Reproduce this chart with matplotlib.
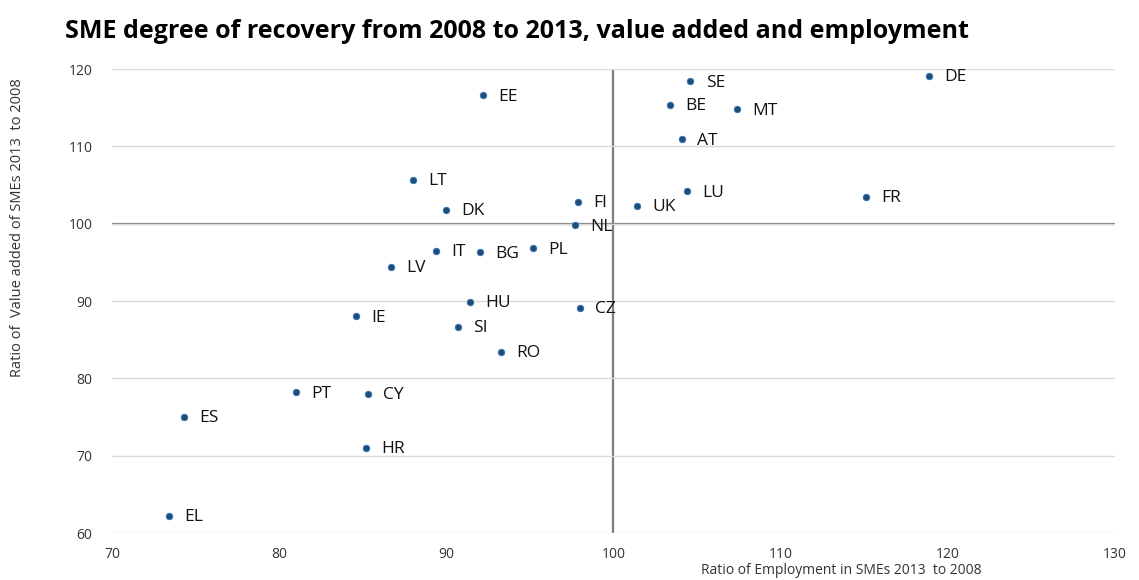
import matplotlib
matplotlib.use('Agg')
import matplotlib.pyplot as plt

# employment ratio (x) and value added ratio (y), 2013 vs 2008
countries = ['EE', 'LT', 'DK', 'FI', 'NL', 'IT', 'BG', 'PL', 'LV',
             'SE', 'DE', 'BE', 'MT', 'AT', 'LU', 'FR', 'UK',
             'HU', 'CZ', 'IE', 'SI', 'RO', 'PT', 'CY', 'ES', 'HR', 'EL']
employment = [92.2, 88.0, 90.0, 97.9, 97.7, 89.4, 92.0, 95.2, 86.7,
              104.6, 118.9, 103.4, 107.4, 104.1, 104.4, 115.1, 101.4,
              91.4, 98.0, 84.6, 90.7, 93.3, 81.0, 85.3, 74.3, 85.2, 73.4]
value_added = [116.6, 105.7, 101.8, 102.8, 99.8, 96.5, 96.3, 96.8, 94.4,
               118.4, 119.1, 115.4, 114.8, 110.9, 104.2, 103.5, 102.3,
               89.9, 89.1, 88.0, 86.7, 83.4, 78.2, 78.0, 75.0, 71.0, 62.2]
x_ticks = [70, 80, 90, 100, 110, 120, 130]
y_ticks = [60, 70, 80, 90, 100, 110, 120]

label_font = ['Open Sans', 'DejaVu Sans']

fig = plt.figure(figsize=(11.39, 5.80), dpi=100)
ax = fig.add_axes([0.0983, 0.081, 0.8806, 0.800])

ax.set_xlim(70, 130)
ax.set_ylim(60, 120)
ax.set_xticks(x_ticks)
ax.set_yticks(y_ticks)

# light horizontal gridlines, darker crosshair at 100/100
ax.grid(axis='y', color='#d9d9d9', linewidth=1.0, zorder=0)
ax.axhline(100, color='#7f7f7f', linewidth=1.6, zorder=1)
ax.axvline(100, color='#7f7f7f', linewidth=1.6, zorder=1)
for s in ax.spines.values():
    s.set_visible(False)
ax.tick_params(length=0, labelsize=10, colors='#333333')
ax.tick_params(axis='x', pad=10)
ax.tick_params(axis='y', pad=14)
for lab in ax.get_xticklabels() + ax.get_yticklabels():
    lab.set_family(label_font)

ax.scatter(employment, value_added, s=22, color='#1f4e79',
           edgecolors='#2e75b6', linewidths=0.6, zorder=3)
for name, xv, yv in zip(countries, employment, value_added):
    ax.annotate(name, (xv, yv), xytext=(11, -1), textcoords='offset points',
                ha='left', va='center', fontsize=12.5, family=label_font,
                color='#111111')

fig.text(0.057, 0.945, 'SME degree of recovery from 2008 to 2013, value added and employment',
         fontsize=18, fontweight='bold', family=label_font, va='center', ha='left')
fig.text(0.739, 0.016, 'Ratio of Employment in SMEs 2013  to 2008',
         fontsize=10, family=label_font, ha='center', va='center', color='#333333')
fig.text(0.015, 0.607, 'Ratio of  Value added of SMEs 2013  to 2008',
         fontsize=10.5, family=label_font, ha='center', va='center', rotation=90,
         color='#333333')

fig.savefig('out.png', dpi=100)
